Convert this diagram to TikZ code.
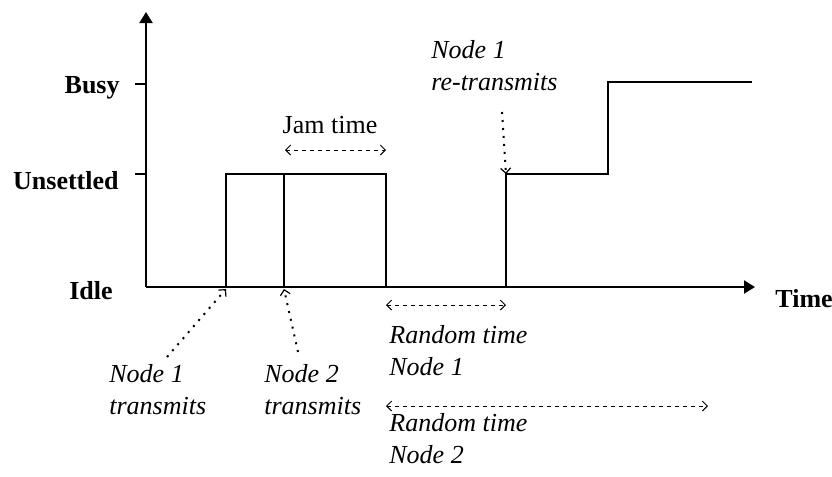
\documentclass[tikz,border=0pt]{standalone}
\usepackage{fontspec}
\setmainfont{Liberation Serif}
\usetikzlibrary{arrows.meta}

\tikzset{
  level/.style={font=\fontsize{13}{15}\selectfont\bfseries, anchor=base east, inner sep=0pt},
  note/.style={font=\fontsize{13}{15}\selectfont\itshape, align=left, anchor=base west, inner sep=0pt},
  signal/.style={line width=1pt},
  axis/.style={line width=1pt, -{Triangle[length=5.5pt,width=6.5pt]}},
  span/.style={line width=0.5pt, dash pattern=on 2pt off 2pt, {Straight Barb[length=2.5pt,width=5pt]}-{Straight Barb[length=2.5pt,width=5pt]}},
  pointer/.style={line width=1pt, dash pattern=on 1pt off 3pt, -{Straight Barb[length=2.5pt,width=5pt,line width=0.6pt]}}
}

\begin{document}
\begin{tikzpicture}[x=0.5pt,y=-0.5pt]
\useasboundingbox (0,0) rectangle (832,477);

% axes and levels
\coordinate (o) at (146,287);
\coordinate (ytop) at (146,12);
\coordinate (xend) at (755,287);
\draw[axis] (o) -- (ytop);
\draw[axis] (o) -- (xend);
\foreach \y in {84,174}
  \draw[line width=1pt] (135,\y) -- (146,\y);
\node[level] (busy) at (120,93) {Busy};
\node[level] (unsettled) at (119,189) {Unsettled};
\node[level] (idle) at (113,299) {Idle};
\node[level, anchor=base west] (time) at (775,307) {Time};

% channel state
\coordinate (tx1) at (226,287);
\coordinate (tx2) at (284,287);
\coordinate (jamend) at (386,287);
\coordinate (retx) at (506,287);
\draw[signal] (tx1) |- (jamend |- 0,174) -- (jamend);
\draw[signal] (tx2) -- (tx2 |- 0,174);
\draw[signal] (retx) |- (608,174) |- (752,82);

% spans
\coordinate (jamA) at (285,150);
\coordinate (jamB) at (386,150);
\coordinate (rnd1A) at (386,305);
\coordinate (rnd1B) at (506,305);
\coordinate (rnd2A) at (386,406);
\coordinate (rnd2B) at (708,406);
\draw[span] (jamA) -- (jamB);
\draw[span] (rnd1A) -- (rnd1B);
\draw[span] (rnd2A) -- (rnd2B);
\node[note, font=\fontsize{13}{15}\selectfont, anchor=base] (jam) at (330,133) {Jam time};
\node[note] (rnd1) at (389,375) {Random time\\[1pt]Node 1};
\node[note] (rnd2) at (389,463) {Random time\\[1pt]Node 2};

% who transmits when
\node[note] (n1tx) at (109,414) {Node 1\\[1pt]transmits};
\node[note] (n2tx) at (264,414) {Node 2\\[1pt]transmits};
\node[note] (n1re) at (431,90) {Node 1\\[1pt]re-transmits};
\coordinate (p1) at (167,357);
\coordinate (p2) at (298,352);
\coordinate (p3) at (502,112);
\coordinate (retxtop) at (506,174);
\draw[pointer] (p1) -- ([yshift=-1pt]tx1);
\draw[pointer] (p2) -- ([yshift=-1pt]tx2);
\draw[pointer] (p3) -- (retxtop);
\end{tikzpicture}
\end{document}
